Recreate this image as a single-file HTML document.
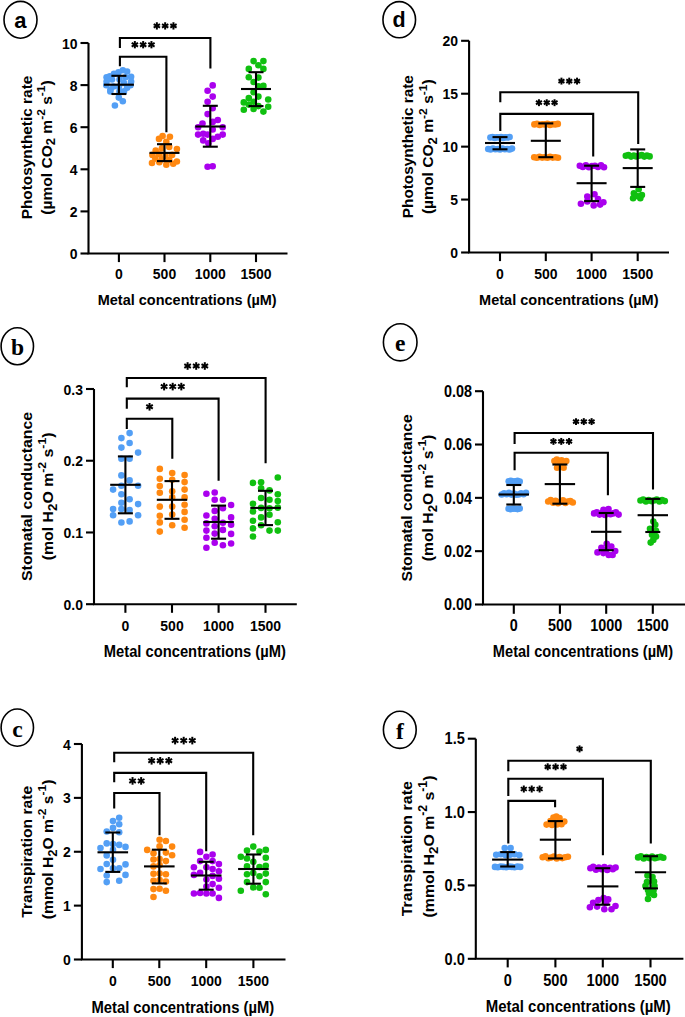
<!DOCTYPE html>
<html><head><meta charset="utf-8"><style>
html,body{margin:0;padding:0;background:#fff;overflow:hidden;width:685px;height:1017px;}
svg{display:block;}
text{font-family:"Liberation Sans", sans-serif;font-weight:bold;fill:#000;}
</style></head><body>
<svg width="685" height="1017" viewBox="0 0 685 1017">
<rect width="685" height="1017" fill="#fff"/>
<g>
<path d="M88.5 43 V253.5 H287.5" fill="none" stroke="#000" stroke-width="2.1" stroke-linejoin="miter"/>
<line x1="80.5" y1="253.5" x2="88.5" y2="253.5" stroke="#000" stroke-width="2.1" stroke-linecap="butt"/>
<text transform="translate(77.5,259.01) scale(1,1.1)" font-size="14.0" text-anchor="end">0</text>
<line x1="80.5" y1="211.4" x2="88.5" y2="211.4" stroke="#000" stroke-width="2.1" stroke-linecap="butt"/>
<text transform="translate(77.5,216.91) scale(1,1.1)" font-size="14.0" text-anchor="end">2</text>
<line x1="80.5" y1="169.3" x2="88.5" y2="169.3" stroke="#000" stroke-width="2.1" stroke-linecap="butt"/>
<text transform="translate(77.5,174.81) scale(1,1.1)" font-size="14.0" text-anchor="end">4</text>
<line x1="80.5" y1="127.2" x2="88.5" y2="127.2" stroke="#000" stroke-width="2.1" stroke-linecap="butt"/>
<text transform="translate(77.5,132.71) scale(1,1.1)" font-size="14.0" text-anchor="end">6</text>
<line x1="80.5" y1="85.1" x2="88.5" y2="85.1" stroke="#000" stroke-width="2.1" stroke-linecap="butt"/>
<text transform="translate(77.5,90.61) scale(1,1.1)" font-size="14.0" text-anchor="end">8</text>
<line x1="80.5" y1="43" x2="88.5" y2="43" stroke="#000" stroke-width="2.1" stroke-linecap="butt"/>
<text transform="translate(77.5,48.51) scale(1,1.1)" font-size="14.0" text-anchor="end">10</text>
<line x1="118.9" y1="253.5" x2="118.9" y2="262.1" stroke="#000" stroke-width="2.1" stroke-linecap="butt"/>
<text transform="translate(118.9,279.2) scale(1,1.1)" font-size="14.0" text-anchor="middle">0</text>
<line x1="164.5" y1="253.5" x2="164.5" y2="262.1" stroke="#000" stroke-width="2.1" stroke-linecap="butt"/>
<text transform="translate(164.5,279.2) scale(1,1.1)" font-size="14.0" text-anchor="middle">500</text>
<line x1="210.3" y1="253.5" x2="210.3" y2="262.1" stroke="#000" stroke-width="2.1" stroke-linecap="butt"/>
<text transform="translate(210.3,279.2) scale(1,1.1)" font-size="14.0" text-anchor="middle">1000</text>
<line x1="256" y1="253.5" x2="256" y2="262.1" stroke="#000" stroke-width="2.1" stroke-linecap="butt"/>
<text transform="translate(256,279.2) scale(1,1.1)" font-size="14.0" text-anchor="middle">1500</text>
<text transform="translate(187.2,305) scale(1,1.07)" font-size="14.5" text-anchor="middle">Metal concentrations (µM)</text>
<text transform="translate(31.7,147.5) rotate(-90) scale(1.055,1)" font-size="14.6" text-anchor="middle">Photosynthetic rate</text>
<text transform="translate(51.6,147.5) rotate(-90) scale(1.065,1)" font-size="14.6" text-anchor="middle">(µmol CO<tspan font-size="12.26" dy="3.65">2</tspan><tspan dy="-3.65"> m</tspan><tspan font-size="11.24" dy="-6.50">-2</tspan><tspan dy="6.50"> s</tspan><tspan font-size="11.24" dy="-6.50">-1</tspan><tspan dy="6.50">)</tspan></text>
<circle cx="122.8" cy="70.3" r="3.3" fill="#539ff5"/>
<circle cx="127.1" cy="71.5" r="3.3" fill="#539ff5"/>
<circle cx="118.5" cy="72.4" r="3.3" fill="#539ff5"/>
<circle cx="114" cy="73.8" r="3.3" fill="#539ff5"/>
<circle cx="109.8" cy="76.2" r="3.3" fill="#539ff5"/>
<circle cx="131.1" cy="76.7" r="3.3" fill="#539ff5"/>
<circle cx="106.6" cy="77.3" r="3.3" fill="#539ff5"/>
<circle cx="125.5" cy="77.3" r="3.3" fill="#539ff5"/>
<circle cx="112" cy="79.5" r="3.3" fill="#539ff5"/>
<circle cx="119.5" cy="79.5" r="3.3" fill="#539ff5"/>
<circle cx="131.1" cy="81.6" r="3.3" fill="#539ff5"/>
<circle cx="106.6" cy="81.6" r="3.3" fill="#539ff5"/>
<circle cx="124" cy="83" r="3.3" fill="#539ff5"/>
<circle cx="106.3" cy="85.3" r="3.3" fill="#539ff5"/>
<circle cx="130.5" cy="85.3" r="3.3" fill="#539ff5"/>
<circle cx="113.5" cy="86.5" r="3.3" fill="#539ff5"/>
<circle cx="119" cy="86.5" r="3.3" fill="#539ff5"/>
<circle cx="127.1" cy="87.8" r="3.3" fill="#539ff5"/>
<circle cx="110.5" cy="89.5" r="3.3" fill="#539ff5"/>
<circle cx="110.3" cy="91.4" r="3.3" fill="#539ff5"/>
<circle cx="119.5" cy="91.4" r="3.3" fill="#539ff5"/>
<circle cx="124" cy="91.4" r="3.3" fill="#539ff5"/>
<circle cx="118.8" cy="97.6" r="3.3" fill="#539ff5"/>
<circle cx="122.8" cy="101.2" r="3.3" fill="#539ff5"/>
<circle cx="114.9" cy="105.5" r="3.3" fill="#539ff5"/>
<circle cx="162.6" cy="136" r="3.3" fill="#ff8810"/>
<circle cx="169.9" cy="136.7" r="3.3" fill="#ff8810"/>
<circle cx="159" cy="138.9" r="3.3" fill="#ff8810"/>
<circle cx="166.3" cy="141.8" r="3.3" fill="#ff8810"/>
<circle cx="176.9" cy="149.1" r="3.3" fill="#ff8810"/>
<circle cx="155.7" cy="150.5" r="3.3" fill="#ff8810"/>
<circle cx="161.9" cy="148.4" r="3.3" fill="#ff8810"/>
<circle cx="169.2" cy="146.9" r="3.3" fill="#ff8810"/>
<circle cx="152.4" cy="154.9" r="3.3" fill="#ff8810"/>
<circle cx="159" cy="154.2" r="3.3" fill="#ff8810"/>
<circle cx="172.1" cy="154.9" r="3.3" fill="#ff8810"/>
<circle cx="165.5" cy="155.7" r="3.3" fill="#ff8810"/>
<circle cx="152" cy="163" r="3.3" fill="#ff8810"/>
<circle cx="159.3" cy="162.2" r="3.3" fill="#ff8810"/>
<circle cx="166.3" cy="164.8" r="3.3" fill="#ff8810"/>
<circle cx="173.2" cy="163.7" r="3.3" fill="#ff8810"/>
<circle cx="176.9" cy="161.5" r="3.3" fill="#ff8810"/>
<circle cx="155.3" cy="158.6" r="3.3" fill="#ff8810"/>
<circle cx="169.2" cy="160" r="3.3" fill="#ff8810"/>
<circle cx="161.9" cy="159.3" r="3.3" fill="#ff8810"/>
<circle cx="212.7" cy="85.4" r="3.3" fill="#aa00ee"/>
<circle cx="207.6" cy="90.8" r="3.3" fill="#aa00ee"/>
<circle cx="212.7" cy="96.6" r="3.3" fill="#aa00ee"/>
<circle cx="207.6" cy="101.7" r="3.3" fill="#aa00ee"/>
<circle cx="212.7" cy="108.3" r="3.3" fill="#aa00ee"/>
<circle cx="207.6" cy="114.1" r="3.3" fill="#aa00ee"/>
<circle cx="217.8" cy="120" r="3.3" fill="#aa00ee"/>
<circle cx="202.5" cy="123.6" r="3.3" fill="#aa00ee"/>
<circle cx="212.7" cy="121.9" r="3.3" fill="#aa00ee"/>
<circle cx="198.1" cy="127.3" r="3.3" fill="#aa00ee"/>
<circle cx="222.7" cy="127.3" r="3.3" fill="#aa00ee"/>
<circle cx="212.7" cy="129.5" r="3.3" fill="#aa00ee"/>
<circle cx="198.1" cy="134.6" r="3.3" fill="#aa00ee"/>
<circle cx="203.2" cy="133.8" r="3.3" fill="#aa00ee"/>
<circle cx="207.6" cy="134.6" r="3.3" fill="#aa00ee"/>
<circle cx="217.8" cy="136.8" r="3.3" fill="#aa00ee"/>
<circle cx="222.7" cy="134.6" r="3.3" fill="#aa00ee"/>
<circle cx="212.7" cy="138.9" r="3.3" fill="#aa00ee"/>
<circle cx="203.2" cy="140.4" r="3.3" fill="#aa00ee"/>
<circle cx="208.4" cy="143.3" r="3.3" fill="#aa00ee"/>
<circle cx="207.6" cy="166.7" r="3.3" fill="#aa00ee"/>
<circle cx="212.7" cy="166.2" r="3.3" fill="#aa00ee"/>
<circle cx="253.6" cy="61.1" r="3.3" fill="#10c010"/>
<circle cx="263.4" cy="61.1" r="3.3" fill="#10c010"/>
<circle cx="258.4" cy="65.2" r="3.3" fill="#10c010"/>
<circle cx="248.8" cy="68.9" r="3.3" fill="#10c010"/>
<circle cx="263.4" cy="68.9" r="3.3" fill="#10c010"/>
<circle cx="248.8" cy="77.2" r="3.3" fill="#10c010"/>
<circle cx="258.4" cy="77.6" r="3.3" fill="#10c010"/>
<circle cx="253.6" cy="82" r="3.3" fill="#10c010"/>
<circle cx="263.4" cy="85.9" r="3.3" fill="#10c010"/>
<circle cx="258.4" cy="86.4" r="3.3" fill="#10c010"/>
<circle cx="253.6" cy="92.2" r="3.3" fill="#10c010"/>
<circle cx="258.4" cy="96.6" r="3.3" fill="#10c010"/>
<circle cx="248.8" cy="98.1" r="3.3" fill="#10c010"/>
<circle cx="268.2" cy="99.5" r="3.3" fill="#10c010"/>
<circle cx="243.8" cy="102.4" r="3.3" fill="#10c010"/>
<circle cx="253.6" cy="101.7" r="3.3" fill="#10c010"/>
<circle cx="248.8" cy="104.6" r="3.3" fill="#10c010"/>
<circle cx="258.4" cy="106.1" r="3.3" fill="#10c010"/>
<circle cx="268.2" cy="106.8" r="3.3" fill="#10c010"/>
<circle cx="243.8" cy="109.7" r="3.3" fill="#10c010"/>
<circle cx="253.6" cy="109" r="3.3" fill="#10c010"/>
<circle cx="263.4" cy="111.6" r="3.3" fill="#10c010"/>
<line x1="118.9" y1="75.8" x2="118.9" y2="94" stroke="#000" stroke-width="2.1" stroke-linecap="butt"/>
<line x1="111.4" y1="75.8" x2="126.4" y2="75.8" stroke="#000" stroke-width="2.1" stroke-linecap="butt"/>
<line x1="111.4" y1="94" x2="126.4" y2="94" stroke="#000" stroke-width="2.1" stroke-linecap="butt"/>
<line x1="103.9" y1="84.7" x2="133.9" y2="84.7" stroke="#000" stroke-width="2.1" stroke-linecap="butt"/>
<line x1="164.5" y1="144.2" x2="164.5" y2="161.1" stroke="#000" stroke-width="2.1" stroke-linecap="butt"/>
<line x1="157" y1="144.2" x2="172" y2="144.2" stroke="#000" stroke-width="2.1" stroke-linecap="butt"/>
<line x1="157" y1="161.1" x2="172" y2="161.1" stroke="#000" stroke-width="2.1" stroke-linecap="butt"/>
<line x1="149.5" y1="152.9" x2="179.5" y2="152.9" stroke="#000" stroke-width="2.1" stroke-linecap="butt"/>
<line x1="210.3" y1="105.8" x2="210.3" y2="146.7" stroke="#000" stroke-width="2.1" stroke-linecap="butt"/>
<line x1="202.8" y1="105.8" x2="217.8" y2="105.8" stroke="#000" stroke-width="2.1" stroke-linecap="butt"/>
<line x1="202.8" y1="146.7" x2="217.8" y2="146.7" stroke="#000" stroke-width="2.1" stroke-linecap="butt"/>
<line x1="195.3" y1="126.5" x2="225.3" y2="126.5" stroke="#000" stroke-width="2.1" stroke-linecap="butt"/>
<line x1="256" y1="72.2" x2="256" y2="106.1" stroke="#000" stroke-width="2.1" stroke-linecap="butt"/>
<line x1="248.5" y1="72.2" x2="263.5" y2="72.2" stroke="#000" stroke-width="2.1" stroke-linecap="butt"/>
<line x1="248.5" y1="106.1" x2="263.5" y2="106.1" stroke="#000" stroke-width="2.1" stroke-linecap="butt"/>
<line x1="241" y1="89" x2="271" y2="89" stroke="#000" stroke-width="2.1" stroke-linecap="butt"/>
<path d="M119.9 48 V38 H210.4 V68.4" fill="none" stroke="#000" stroke-width="2.1"/>
<line x1="156.85" y1="22.25" x2="156.85" y2="29.55" stroke="#000" stroke-width="2.0"/>
<line x1="153.69" y1="24.07" x2="160.01" y2="27.72" stroke="#000" stroke-width="2.0"/>
<line x1="153.69" y1="27.72" x2="160.01" y2="24.07" stroke="#000" stroke-width="2.0"/>
<line x1="165.15" y1="22.25" x2="165.15" y2="29.55" stroke="#000" stroke-width="2.0"/>
<line x1="161.99" y1="24.07" x2="168.31" y2="27.72" stroke="#000" stroke-width="2.0"/>
<line x1="161.99" y1="27.72" x2="168.31" y2="24.07" stroke="#000" stroke-width="2.0"/>
<line x1="173.45" y1="22.25" x2="173.45" y2="29.55" stroke="#000" stroke-width="2.0"/>
<line x1="170.29" y1="24.07" x2="176.61" y2="27.72" stroke="#000" stroke-width="2.0"/>
<line x1="170.29" y1="27.72" x2="176.61" y2="24.07" stroke="#000" stroke-width="2.0"/>
<path d="M119.9 66.2 V56.8 H166.4 V132.3" fill="none" stroke="#000" stroke-width="2.1"/>
<line x1="134.85" y1="41.05" x2="134.85" y2="48.35" stroke="#000" stroke-width="2.0"/>
<line x1="131.69" y1="42.87" x2="138.01" y2="46.52" stroke="#000" stroke-width="2.0"/>
<line x1="131.69" y1="46.52" x2="138.01" y2="42.87" stroke="#000" stroke-width="2.0"/>
<line x1="143.15" y1="41.05" x2="143.15" y2="48.35" stroke="#000" stroke-width="2.0"/>
<line x1="139.99" y1="42.87" x2="146.31" y2="46.52" stroke="#000" stroke-width="2.0"/>
<line x1="139.99" y1="46.52" x2="146.31" y2="42.87" stroke="#000" stroke-width="2.0"/>
<line x1="151.45" y1="41.05" x2="151.45" y2="48.35" stroke="#000" stroke-width="2.0"/>
<line x1="148.29" y1="42.87" x2="154.61" y2="46.52" stroke="#000" stroke-width="2.0"/>
<line x1="148.29" y1="46.52" x2="154.61" y2="42.87" stroke="#000" stroke-width="2.0"/>
<ellipse cx="20.5" cy="19.8" rx="16.5" ry="18.4" fill="none" stroke="#000" stroke-width="1.6"/>
<text x="20.3" y="27.6" font-size="22" text-anchor="middle" style='font-family:"Liberation Sans", sans-serif'>a</text>
</g>
<g>
<path d="M469.1 40.8 V252.5 H669" fill="none" stroke="#000" stroke-width="2.1" stroke-linejoin="miter"/>
<line x1="461.1" y1="252.5" x2="469.1" y2="252.5" stroke="#000" stroke-width="2.1" stroke-linecap="butt"/>
<text transform="translate(458.1,258.01) scale(1,1.1)" font-size="14.0" text-anchor="end">0</text>
<line x1="461.1" y1="199.57" x2="469.1" y2="199.57" stroke="#000" stroke-width="2.1" stroke-linecap="butt"/>
<text transform="translate(458.1,205.09) scale(1,1.1)" font-size="14.0" text-anchor="end">5</text>
<line x1="461.1" y1="146.65" x2="469.1" y2="146.65" stroke="#000" stroke-width="2.1" stroke-linecap="butt"/>
<text transform="translate(458.1,152.16) scale(1,1.1)" font-size="14.0" text-anchor="end">10</text>
<line x1="461.1" y1="93.72" x2="469.1" y2="93.72" stroke="#000" stroke-width="2.1" stroke-linecap="butt"/>
<text transform="translate(458.1,99.24) scale(1,1.1)" font-size="14.0" text-anchor="end">15</text>
<line x1="461.1" y1="40.8" x2="469.1" y2="40.8" stroke="#000" stroke-width="2.1" stroke-linecap="butt"/>
<text transform="translate(458.1,46.31) scale(1,1.1)" font-size="14.0" text-anchor="end">20</text>
<line x1="500" y1="252.5" x2="500" y2="261.1" stroke="#000" stroke-width="2.1" stroke-linecap="butt"/>
<text transform="translate(500,278.6) scale(1,1.1)" font-size="14.0" text-anchor="middle">0</text>
<line x1="545.8" y1="252.5" x2="545.8" y2="261.1" stroke="#000" stroke-width="2.1" stroke-linecap="butt"/>
<text transform="translate(545.8,278.6) scale(1,1.1)" font-size="14.0" text-anchor="middle">500</text>
<line x1="591.6" y1="252.5" x2="591.6" y2="261.1" stroke="#000" stroke-width="2.1" stroke-linecap="butt"/>
<text transform="translate(591.6,278.6) scale(1,1.1)" font-size="14.0" text-anchor="middle">1000</text>
<line x1="637.7" y1="252.5" x2="637.7" y2="261.1" stroke="#000" stroke-width="2.1" stroke-linecap="butt"/>
<text transform="translate(637.7,278.6) scale(1,1.1)" font-size="14.0" text-anchor="middle">1500</text>
<text transform="translate(568.8,304.8) scale(1,1.07)" font-size="14.55" text-anchor="middle">Metal concentrations (µM)</text>
<text transform="translate(412.8,146.7) rotate(-90) scale(1.05,1)" font-size="14.6" text-anchor="middle">Photosynthetic rate</text>
<text transform="translate(433.2,146.7) rotate(-90) scale(1.07,1)" font-size="14.6" text-anchor="middle">(µmol CO<tspan font-size="12.26" dy="3.65">2</tspan><tspan dy="-3.65"> m</tspan><tspan font-size="11.24" dy="-6.50">-2</tspan><tspan dy="6.50"> s</tspan><tspan font-size="11.24" dy="-6.50">-1</tspan><tspan dy="6.50">)</tspan></text>
<circle cx="490.4" cy="137.5" r="3.3" fill="#539ff5"/>
<circle cx="492.53" cy="137" r="3.3" fill="#539ff5"/>
<circle cx="494.67" cy="137.9" r="3.3" fill="#539ff5"/>
<circle cx="496.8" cy="137.2" r="3.3" fill="#539ff5"/>
<circle cx="498.93" cy="137.5" r="3.3" fill="#539ff5"/>
<circle cx="501.07" cy="137" r="3.3" fill="#539ff5"/>
<circle cx="503.2" cy="137.9" r="3.3" fill="#539ff5"/>
<circle cx="505.33" cy="137.2" r="3.3" fill="#539ff5"/>
<circle cx="507.47" cy="137.5" r="3.3" fill="#539ff5"/>
<circle cx="509.6" cy="137" r="3.3" fill="#539ff5"/>
<circle cx="488.2" cy="149" r="3.3" fill="#539ff5"/>
<circle cx="490.58" cy="149.4" r="3.3" fill="#539ff5"/>
<circle cx="492.96" cy="148.6" r="3.3" fill="#539ff5"/>
<circle cx="495.34" cy="149.3" r="3.3" fill="#539ff5"/>
<circle cx="497.72" cy="149" r="3.3" fill="#539ff5"/>
<circle cx="500.1" cy="149.4" r="3.3" fill="#539ff5"/>
<circle cx="502.48" cy="148.6" r="3.3" fill="#539ff5"/>
<circle cx="504.86" cy="149.3" r="3.3" fill="#539ff5"/>
<circle cx="507.24" cy="149" r="3.3" fill="#539ff5"/>
<circle cx="509.62" cy="149.4" r="3.3" fill="#539ff5"/>
<circle cx="512" cy="148.6" r="3.3" fill="#539ff5"/>
<circle cx="534.4" cy="124.4" r="3.3" fill="#ff8810"/>
<circle cx="537" cy="123.9" r="3.3" fill="#ff8810"/>
<circle cx="539.6" cy="124.9" r="3.3" fill="#ff8810"/>
<circle cx="542.2" cy="124.2" r="3.3" fill="#ff8810"/>
<circle cx="544.8" cy="124.4" r="3.3" fill="#ff8810"/>
<circle cx="547.4" cy="123.9" r="3.3" fill="#ff8810"/>
<circle cx="550" cy="124.9" r="3.3" fill="#ff8810"/>
<circle cx="552.6" cy="124.2" r="3.3" fill="#ff8810"/>
<circle cx="555.2" cy="124.4" r="3.3" fill="#ff8810"/>
<circle cx="557.8" cy="123.9" r="3.3" fill="#ff8810"/>
<circle cx="534.2" cy="157.3" r="3.3" fill="#ff8810"/>
<circle cx="536.84" cy="157.7" r="3.3" fill="#ff8810"/>
<circle cx="539.49" cy="156.9" r="3.3" fill="#ff8810"/>
<circle cx="542.13" cy="157.6" r="3.3" fill="#ff8810"/>
<circle cx="544.78" cy="157.3" r="3.3" fill="#ff8810"/>
<circle cx="547.42" cy="157.7" r="3.3" fill="#ff8810"/>
<circle cx="550.07" cy="156.9" r="3.3" fill="#ff8810"/>
<circle cx="552.71" cy="157.6" r="3.3" fill="#ff8810"/>
<circle cx="555.36" cy="157.3" r="3.3" fill="#ff8810"/>
<circle cx="558" cy="157.7" r="3.3" fill="#ff8810"/>
<circle cx="579.8" cy="165.8" r="3.3" fill="#aa00ee"/>
<circle cx="582.82" cy="167" r="3.3" fill="#aa00ee"/>
<circle cx="585.85" cy="165.4" r="3.3" fill="#aa00ee"/>
<circle cx="588.88" cy="167.3" r="3.3" fill="#aa00ee"/>
<circle cx="591.9" cy="166" r="3.3" fill="#aa00ee"/>
<circle cx="594.92" cy="165.8" r="3.3" fill="#aa00ee"/>
<circle cx="597.95" cy="167" r="3.3" fill="#aa00ee"/>
<circle cx="600.98" cy="165.4" r="3.3" fill="#aa00ee"/>
<circle cx="604" cy="167.3" r="3.3" fill="#aa00ee"/>
<circle cx="594.5" cy="194.2" r="3.3" fill="#aa00ee"/>
<circle cx="587.3" cy="196.6" r="3.3" fill="#aa00ee"/>
<circle cx="580.9" cy="203.8" r="3.3" fill="#aa00ee"/>
<circle cx="587.3" cy="201.4" r="3.3" fill="#aa00ee"/>
<circle cx="593.7" cy="205.4" r="3.3" fill="#aa00ee"/>
<circle cx="600.1" cy="204.6" r="3.3" fill="#aa00ee"/>
<circle cx="603.4" cy="202.2" r="3.3" fill="#aa00ee"/>
<circle cx="598" cy="199" r="3.3" fill="#aa00ee"/>
<circle cx="625.8" cy="155.8" r="3.3" fill="#10c010"/>
<circle cx="628.44" cy="155" r="3.3" fill="#10c010"/>
<circle cx="631.09" cy="156.6" r="3.3" fill="#10c010"/>
<circle cx="633.73" cy="155.5" r="3.3" fill="#10c010"/>
<circle cx="636.38" cy="156.4" r="3.3" fill="#10c010"/>
<circle cx="639.02" cy="155.8" r="3.3" fill="#10c010"/>
<circle cx="641.67" cy="155" r="3.3" fill="#10c010"/>
<circle cx="644.31" cy="156.6" r="3.3" fill="#10c010"/>
<circle cx="646.96" cy="155.5" r="3.3" fill="#10c010"/>
<circle cx="649.6" cy="156.4" r="3.3" fill="#10c010"/>
<circle cx="638.7" cy="189.3" r="3.3" fill="#10c010"/>
<circle cx="633.9" cy="193.4" r="3.3" fill="#10c010"/>
<circle cx="641.9" cy="195" r="3.3" fill="#10c010"/>
<circle cx="633.1" cy="198.2" r="3.3" fill="#10c010"/>
<circle cx="640.3" cy="198.2" r="3.3" fill="#10c010"/>
<circle cx="637" cy="196" r="3.3" fill="#10c010"/>
<line x1="500" y1="137.1" x2="500" y2="149.3" stroke="#000" stroke-width="2.1" stroke-linecap="butt"/>
<line x1="492.5" y1="137.1" x2="507.5" y2="137.1" stroke="#000" stroke-width="2.1" stroke-linecap="butt"/>
<line x1="492.5" y1="149.3" x2="507.5" y2="149.3" stroke="#000" stroke-width="2.1" stroke-linecap="butt"/>
<line x1="485" y1="143" x2="515" y2="143" stroke="#000" stroke-width="2.1" stroke-linecap="butt"/>
<line x1="545.8" y1="123.4" x2="545.8" y2="157.2" stroke="#000" stroke-width="2.1" stroke-linecap="butt"/>
<line x1="538.3" y1="123.4" x2="553.3" y2="123.4" stroke="#000" stroke-width="2.1" stroke-linecap="butt"/>
<line x1="538.3" y1="157.2" x2="553.3" y2="157.2" stroke="#000" stroke-width="2.1" stroke-linecap="butt"/>
<line x1="530.8" y1="140.8" x2="560.8" y2="140.8" stroke="#000" stroke-width="2.1" stroke-linecap="butt"/>
<line x1="591.6" y1="165.7" x2="591.6" y2="201.1" stroke="#000" stroke-width="2.1" stroke-linecap="butt"/>
<line x1="584.1" y1="165.7" x2="599.1" y2="165.7" stroke="#000" stroke-width="2.1" stroke-linecap="butt"/>
<line x1="584.1" y1="201.1" x2="599.1" y2="201.1" stroke="#000" stroke-width="2.1" stroke-linecap="butt"/>
<line x1="576.6" y1="183.2" x2="606.6" y2="183.2" stroke="#000" stroke-width="2.1" stroke-linecap="butt"/>
<line x1="637.7" y1="149.4" x2="637.7" y2="186.9" stroke="#000" stroke-width="2.1" stroke-linecap="butt"/>
<line x1="630.2" y1="149.4" x2="645.2" y2="149.4" stroke="#000" stroke-width="2.1" stroke-linecap="butt"/>
<line x1="630.2" y1="186.9" x2="645.2" y2="186.9" stroke="#000" stroke-width="2.1" stroke-linecap="butt"/>
<line x1="622.7" y1="168.1" x2="652.7" y2="168.1" stroke="#000" stroke-width="2.1" stroke-linecap="butt"/>
<path d="M500.3 102.3 V92.3 H638.2 V144" fill="none" stroke="#000" stroke-width="2.1"/>
<line x1="561.45" y1="77.65" x2="561.45" y2="84.55" stroke="#000" stroke-width="2.0"/>
<line x1="558.46" y1="79.38" x2="564.44" y2="82.82" stroke="#000" stroke-width="2.0"/>
<line x1="558.46" y1="82.82" x2="564.44" y2="79.38" stroke="#000" stroke-width="2.0"/>
<line x1="569.25" y1="77.65" x2="569.25" y2="84.55" stroke="#000" stroke-width="2.0"/>
<line x1="566.26" y1="79.38" x2="572.24" y2="82.82" stroke="#000" stroke-width="2.0"/>
<line x1="566.26" y1="82.82" x2="572.24" y2="79.38" stroke="#000" stroke-width="2.0"/>
<line x1="577.05" y1="77.65" x2="577.05" y2="84.55" stroke="#000" stroke-width="2.0"/>
<line x1="574.06" y1="79.38" x2="580.04" y2="82.82" stroke="#000" stroke-width="2.0"/>
<line x1="574.06" y1="82.82" x2="580.04" y2="79.38" stroke="#000" stroke-width="2.0"/>
<path d="M500.3 130.9 V113.9 H593.2 V156.4" fill="none" stroke="#000" stroke-width="2.1"/>
<line x1="538.95" y1="99.25" x2="538.95" y2="106.15" stroke="#000" stroke-width="2.0"/>
<line x1="535.96" y1="100.98" x2="541.94" y2="104.42" stroke="#000" stroke-width="2.0"/>
<line x1="535.96" y1="104.42" x2="541.94" y2="100.98" stroke="#000" stroke-width="2.0"/>
<line x1="546.75" y1="99.25" x2="546.75" y2="106.15" stroke="#000" stroke-width="2.0"/>
<line x1="543.76" y1="100.98" x2="549.74" y2="104.42" stroke="#000" stroke-width="2.0"/>
<line x1="543.76" y1="104.42" x2="549.74" y2="100.98" stroke="#000" stroke-width="2.0"/>
<line x1="554.55" y1="99.25" x2="554.55" y2="106.15" stroke="#000" stroke-width="2.0"/>
<line x1="551.56" y1="100.98" x2="557.54" y2="104.42" stroke="#000" stroke-width="2.0"/>
<line x1="551.56" y1="104.42" x2="557.54" y2="100.98" stroke="#000" stroke-width="2.0"/>
<ellipse cx="399.25" cy="19.7" rx="16.3" ry="18.1" fill="none" stroke="#000" stroke-width="1.6"/>
<text x="399" y="27.2" font-size="21.5" text-anchor="middle" style='font-family:"Liberation Sans", sans-serif'>d</text>
</g>
<g>
<path d="M94 389 V604.2 H296.8" fill="none" stroke="#000" stroke-width="2.1" stroke-linejoin="miter"/>
<line x1="86" y1="604.2" x2="94" y2="604.2" stroke="#000" stroke-width="2.1" stroke-linecap="butt"/>
<text transform="translate(83,609.71) scale(1,1.1)" font-size="14.0" text-anchor="end">0.0</text>
<line x1="86" y1="532.47" x2="94" y2="532.47" stroke="#000" stroke-width="2.1" stroke-linecap="butt"/>
<text transform="translate(83,537.98) scale(1,1.1)" font-size="14.0" text-anchor="end">0.1</text>
<line x1="86" y1="460.73" x2="94" y2="460.73" stroke="#000" stroke-width="2.1" stroke-linecap="butt"/>
<text transform="translate(83,466.25) scale(1,1.1)" font-size="14.0" text-anchor="end">0.2</text>
<line x1="86" y1="389" x2="94" y2="389" stroke="#000" stroke-width="2.1" stroke-linecap="butt"/>
<text transform="translate(83,394.51) scale(1,1.1)" font-size="14.0" text-anchor="end">0.3</text>
<line x1="125.4" y1="604.2" x2="125.4" y2="612.8" stroke="#000" stroke-width="2.1" stroke-linecap="butt"/>
<text transform="translate(125.4,630.6) scale(1,1.1)" font-size="14.0" text-anchor="middle">0</text>
<line x1="172" y1="604.2" x2="172" y2="612.8" stroke="#000" stroke-width="2.1" stroke-linecap="butt"/>
<text transform="translate(172,630.6) scale(1,1.1)" font-size="14.0" text-anchor="middle">500</text>
<line x1="218.6" y1="604.2" x2="218.6" y2="612.8" stroke="#000" stroke-width="2.1" stroke-linecap="butt"/>
<text transform="translate(218.6,630.6) scale(1,1.1)" font-size="14.0" text-anchor="middle">1000</text>
<line x1="265.5" y1="604.2" x2="265.5" y2="612.8" stroke="#000" stroke-width="2.1" stroke-linecap="butt"/>
<text transform="translate(265.5,630.6) scale(1,1.1)" font-size="14.0" text-anchor="middle">1500</text>
<text transform="translate(194.8,656.6) scale(1,1.07)" font-size="14.75" text-anchor="middle">Metal concentrations (µM)</text>
<text transform="translate(32.3,496.4) rotate(-90) scale(1.04,1)" font-size="15.25" text-anchor="middle">Stomatal conductance</text>
<text transform="translate(52.9,496.4) rotate(-90) scale(1.04,1)" font-size="15.25" text-anchor="middle">(mol H<tspan font-size="12.81" dy="3.81">2</tspan><tspan dy="-3.81">O m</tspan><tspan font-size="11.74" dy="-6.79">-2</tspan><tspan dy="6.79"> s</tspan><tspan font-size="11.74" dy="-6.79">-1</tspan><tspan dy="6.79">)</tspan></text>
<circle cx="129.6" cy="433.1" r="3.3" fill="#539ff5"/>
<circle cx="121.4" cy="438.1" r="3.3" fill="#539ff5"/>
<circle cx="129.6" cy="443" r="3.3" fill="#539ff5"/>
<circle cx="121.4" cy="447.6" r="3.3" fill="#539ff5"/>
<circle cx="138.1" cy="452.6" r="3.3" fill="#539ff5"/>
<circle cx="121.4" cy="458.8" r="3.3" fill="#539ff5"/>
<circle cx="129.6" cy="458.8" r="3.3" fill="#539ff5"/>
<circle cx="121.4" cy="475.4" r="3.3" fill="#539ff5"/>
<circle cx="129.6" cy="480.4" r="3.3" fill="#539ff5"/>
<circle cx="121.4" cy="485.7" r="3.3" fill="#539ff5"/>
<circle cx="138.1" cy="485.7" r="3.3" fill="#539ff5"/>
<circle cx="113.1" cy="489.6" r="3.3" fill="#539ff5"/>
<circle cx="121.4" cy="494.2" r="3.3" fill="#539ff5"/>
<circle cx="129.6" cy="499.2" r="3.3" fill="#539ff5"/>
<circle cx="121.4" cy="502.8" r="3.3" fill="#539ff5"/>
<circle cx="138.1" cy="504.1" r="3.3" fill="#539ff5"/>
<circle cx="113.1" cy="509.1" r="3.3" fill="#539ff5"/>
<circle cx="121.4" cy="509.1" r="3.3" fill="#539ff5"/>
<circle cx="129.6" cy="510" r="3.3" fill="#539ff5"/>
<circle cx="113.1" cy="515.3" r="3.3" fill="#539ff5"/>
<circle cx="138.1" cy="515.3" r="3.3" fill="#539ff5"/>
<circle cx="121.4" cy="522.5" r="3.3" fill="#539ff5"/>
<circle cx="129.6" cy="521.4" r="3.3" fill="#539ff5"/>
<circle cx="159.8" cy="468.9" r="3.3" fill="#ff8810"/>
<circle cx="159.8" cy="478.8" r="3.3" fill="#ff8810"/>
<circle cx="159.8" cy="486" r="3.3" fill="#ff8810"/>
<circle cx="159.8" cy="492.8" r="3.3" fill="#ff8810"/>
<circle cx="159.8" cy="506.6" r="3.3" fill="#ff8810"/>
<circle cx="159.8" cy="515.8" r="3.3" fill="#ff8810"/>
<circle cx="159.8" cy="522.4" r="3.3" fill="#ff8810"/>
<circle cx="159.8" cy="531.6" r="3.3" fill="#ff8810"/>
<circle cx="172.2" cy="473.1" r="3.3" fill="#ff8810"/>
<circle cx="172.2" cy="479.7" r="3.3" fill="#ff8810"/>
<circle cx="172.2" cy="491.3" r="3.3" fill="#ff8810"/>
<circle cx="172.2" cy="497.4" r="3.3" fill="#ff8810"/>
<circle cx="172.2" cy="506.6" r="3.3" fill="#ff8810"/>
<circle cx="172.2" cy="514.5" r="3.3" fill="#ff8810"/>
<circle cx="172.2" cy="525.3" r="3.3" fill="#ff8810"/>
<circle cx="184.6" cy="475.1" r="3.3" fill="#ff8810"/>
<circle cx="184.6" cy="482.1" r="3.3" fill="#ff8810"/>
<circle cx="184.6" cy="489.6" r="3.3" fill="#ff8810"/>
<circle cx="184.6" cy="497.4" r="3.3" fill="#ff8810"/>
<circle cx="184.6" cy="504.7" r="3.3" fill="#ff8810"/>
<circle cx="184.6" cy="511.9" r="3.3" fill="#ff8810"/>
<circle cx="184.6" cy="519.8" r="3.3" fill="#ff8810"/>
<circle cx="184.6" cy="527.7" r="3.3" fill="#ff8810"/>
<circle cx="206.4" cy="493.8" r="3.3" fill="#aa00ee"/>
<circle cx="206.4" cy="515.5" r="3.3" fill="#aa00ee"/>
<circle cx="206.4" cy="523.4" r="3.3" fill="#aa00ee"/>
<circle cx="206.4" cy="530.6" r="3.3" fill="#aa00ee"/>
<circle cx="206.4" cy="537.8" r="3.3" fill="#aa00ee"/>
<circle cx="206.4" cy="547.7" r="3.3" fill="#aa00ee"/>
<circle cx="214.7" cy="492.5" r="3.3" fill="#aa00ee"/>
<circle cx="214.7" cy="499.7" r="3.3" fill="#aa00ee"/>
<circle cx="214.7" cy="510.9" r="3.3" fill="#aa00ee"/>
<circle cx="214.7" cy="518.8" r="3.3" fill="#aa00ee"/>
<circle cx="214.7" cy="526.2" r="3.3" fill="#aa00ee"/>
<circle cx="214.7" cy="533.6" r="3.3" fill="#aa00ee"/>
<circle cx="214.7" cy="542.8" r="3.3" fill="#aa00ee"/>
<circle cx="222.9" cy="499.7" r="3.3" fill="#aa00ee"/>
<circle cx="222.9" cy="508.2" r="3.3" fill="#aa00ee"/>
<circle cx="222.9" cy="522.7" r="3.3" fill="#aa00ee"/>
<circle cx="222.9" cy="529.9" r="3.3" fill="#aa00ee"/>
<circle cx="222.9" cy="545.3" r="3.3" fill="#aa00ee"/>
<circle cx="231.1" cy="505" r="3.3" fill="#aa00ee"/>
<circle cx="231.1" cy="517.4" r="3.3" fill="#aa00ee"/>
<circle cx="231.1" cy="524.7" r="3.3" fill="#aa00ee"/>
<circle cx="231.1" cy="533.9" r="3.3" fill="#aa00ee"/>
<circle cx="231.1" cy="543.5" r="3.3" fill="#aa00ee"/>
<circle cx="253" cy="482.9" r="3.3" fill="#10c010"/>
<circle cx="253" cy="503.7" r="3.3" fill="#10c010"/>
<circle cx="253" cy="511.5" r="3.3" fill="#10c010"/>
<circle cx="253" cy="520.7" r="3.3" fill="#10c010"/>
<circle cx="253" cy="528.4" r="3.3" fill="#10c010"/>
<circle cx="253" cy="536.5" r="3.3" fill="#10c010"/>
<circle cx="261.1" cy="482.2" r="3.3" fill="#10c010"/>
<circle cx="261.1" cy="488.2" r="3.3" fill="#10c010"/>
<circle cx="261.1" cy="498" r="3.3" fill="#10c010"/>
<circle cx="261.1" cy="507.9" r="3.3" fill="#10c010"/>
<circle cx="261.1" cy="517.4" r="3.3" fill="#10c010"/>
<circle cx="261.1" cy="525.3" r="3.3" fill="#10c010"/>
<circle cx="269.5" cy="490.4" r="3.3" fill="#10c010"/>
<circle cx="269.5" cy="499.7" r="3.3" fill="#10c010"/>
<circle cx="269.5" cy="508.2" r="3.3" fill="#10c010"/>
<circle cx="269.5" cy="514.8" r="3.3" fill="#10c010"/>
<circle cx="269.5" cy="530.6" r="3.3" fill="#10c010"/>
<circle cx="277.8" cy="477.5" r="3.3" fill="#10c010"/>
<circle cx="277.8" cy="494.2" r="3.3" fill="#10c010"/>
<circle cx="277.8" cy="501" r="3.3" fill="#10c010"/>
<circle cx="277.8" cy="507.6" r="3.3" fill="#10c010"/>
<circle cx="277.8" cy="522.3" r="3.3" fill="#10c010"/>
<circle cx="277.8" cy="530.6" r="3.3" fill="#10c010"/>
<line x1="125.4" y1="456.4" x2="125.4" y2="513.3" stroke="#000" stroke-width="2.1" stroke-linecap="butt"/>
<line x1="117.9" y1="456.4" x2="132.9" y2="456.4" stroke="#000" stroke-width="2.1" stroke-linecap="butt"/>
<line x1="117.9" y1="513.3" x2="132.9" y2="513.3" stroke="#000" stroke-width="2.1" stroke-linecap="butt"/>
<line x1="110.2" y1="484.8" x2="140.6" y2="484.8" stroke="#000" stroke-width="2.1" stroke-linecap="butt"/>
<line x1="172" y1="481.1" x2="172" y2="518.8" stroke="#000" stroke-width="2.1" stroke-linecap="butt"/>
<line x1="164.5" y1="481.1" x2="179.5" y2="481.1" stroke="#000" stroke-width="2.1" stroke-linecap="butt"/>
<line x1="164.5" y1="518.8" x2="179.5" y2="518.8" stroke="#000" stroke-width="2.1" stroke-linecap="butt"/>
<line x1="156.8" y1="499.8" x2="187.2" y2="499.8" stroke="#000" stroke-width="2.1" stroke-linecap="butt"/>
<line x1="218.6" y1="505.6" x2="218.6" y2="538.7" stroke="#000" stroke-width="2.1" stroke-linecap="butt"/>
<line x1="211.1" y1="505.6" x2="226.1" y2="505.6" stroke="#000" stroke-width="2.1" stroke-linecap="butt"/>
<line x1="211.1" y1="538.7" x2="226.1" y2="538.7" stroke="#000" stroke-width="2.1" stroke-linecap="butt"/>
<line x1="203.4" y1="522" x2="233.8" y2="522" stroke="#000" stroke-width="2.1" stroke-linecap="butt"/>
<line x1="265.5" y1="490.8" x2="265.5" y2="525.1" stroke="#000" stroke-width="2.1" stroke-linecap="butt"/>
<line x1="258" y1="490.8" x2="273" y2="490.8" stroke="#000" stroke-width="2.1" stroke-linecap="butt"/>
<line x1="258" y1="525.1" x2="273" y2="525.1" stroke="#000" stroke-width="2.1" stroke-linecap="butt"/>
<line x1="250.3" y1="507.9" x2="280.7" y2="507.9" stroke="#000" stroke-width="2.1" stroke-linecap="butt"/>
<path d="M126.8 387.2 V378 H265.6 V463.2" fill="none" stroke="#000" stroke-width="2.1"/>
<line x1="187.6" y1="362.2" x2="187.6" y2="369.8" stroke="#000" stroke-width="2.0"/>
<line x1="184.31" y1="364.1" x2="190.89" y2="367.9" stroke="#000" stroke-width="2.0"/>
<line x1="184.31" y1="367.9" x2="190.89" y2="364.1" stroke="#000" stroke-width="2.0"/>
<line x1="196.2" y1="362.2" x2="196.2" y2="369.8" stroke="#000" stroke-width="2.0"/>
<line x1="192.91" y1="364.1" x2="199.49" y2="367.9" stroke="#000" stroke-width="2.0"/>
<line x1="192.91" y1="367.9" x2="199.49" y2="364.1" stroke="#000" stroke-width="2.0"/>
<line x1="204.8" y1="362.2" x2="204.8" y2="369.8" stroke="#000" stroke-width="2.0"/>
<line x1="201.51" y1="364.1" x2="208.09" y2="367.9" stroke="#000" stroke-width="2.0"/>
<line x1="201.51" y1="367.9" x2="208.09" y2="364.1" stroke="#000" stroke-width="2.0"/>
<path d="M126.8 408.7 V398.6 H218.6 V480.8" fill="none" stroke="#000" stroke-width="2.1"/>
<line x1="164.1" y1="382.8" x2="164.1" y2="390.4" stroke="#000" stroke-width="2.0"/>
<line x1="160.81" y1="384.7" x2="167.39" y2="388.5" stroke="#000" stroke-width="2.0"/>
<line x1="160.81" y1="388.5" x2="167.39" y2="384.7" stroke="#000" stroke-width="2.0"/>
<line x1="172.7" y1="382.8" x2="172.7" y2="390.4" stroke="#000" stroke-width="2.0"/>
<line x1="169.41" y1="384.7" x2="175.99" y2="388.5" stroke="#000" stroke-width="2.0"/>
<line x1="169.41" y1="388.5" x2="175.99" y2="384.7" stroke="#000" stroke-width="2.0"/>
<line x1="181.3" y1="382.8" x2="181.3" y2="390.4" stroke="#000" stroke-width="2.0"/>
<line x1="178.01" y1="384.7" x2="184.59" y2="388.5" stroke="#000" stroke-width="2.0"/>
<line x1="178.01" y1="388.5" x2="184.59" y2="384.7" stroke="#000" stroke-width="2.0"/>
<path d="M126.8 428.9 V418.8 H172.3 V458.8" fill="none" stroke="#000" stroke-width="2.1"/>
<line x1="149.55" y1="403" x2="149.55" y2="410.6" stroke="#000" stroke-width="2.0"/>
<line x1="146.26" y1="404.9" x2="152.84" y2="408.7" stroke="#000" stroke-width="2.0"/>
<line x1="146.26" y1="408.7" x2="152.84" y2="404.9" stroke="#000" stroke-width="2.0"/>
<ellipse cx="17.3" cy="346.3" rx="16.2" ry="18.5" fill="none" stroke="#000" stroke-width="1.6"/>
<text x="17.5" y="355" font-size="23.5" text-anchor="middle" style='font-family:"Liberation Serif", serif'>b</text>
</g>
<g>
<path d="M483 391.2 V604.5 H686" fill="none" stroke="#000" stroke-width="2.1" stroke-linejoin="miter"/>
<line x1="475" y1="604.5" x2="483" y2="604.5" stroke="#000" stroke-width="2.1" stroke-linecap="butt"/>
<text transform="translate(472,610.17) scale(1,1.1)" font-size="14.4" text-anchor="end">0.00</text>
<line x1="475" y1="551.17" x2="483" y2="551.17" stroke="#000" stroke-width="2.1" stroke-linecap="butt"/>
<text transform="translate(472,556.85) scale(1,1.1)" font-size="14.4" text-anchor="end">0.02</text>
<line x1="475" y1="497.85" x2="483" y2="497.85" stroke="#000" stroke-width="2.1" stroke-linecap="butt"/>
<text transform="translate(472,503.52) scale(1,1.1)" font-size="14.4" text-anchor="end">0.04</text>
<line x1="475" y1="444.52" x2="483" y2="444.52" stroke="#000" stroke-width="2.1" stroke-linecap="butt"/>
<text transform="translate(472,450.2) scale(1,1.1)" font-size="14.4" text-anchor="end">0.06</text>
<line x1="475" y1="391.2" x2="483" y2="391.2" stroke="#000" stroke-width="2.1" stroke-linecap="butt"/>
<text transform="translate(472,396.87) scale(1,1.1)" font-size="14.4" text-anchor="end">0.08</text>
<line x1="513.8" y1="604.5" x2="513.8" y2="613.8" stroke="#000" stroke-width="2.1" stroke-linecap="butt"/>
<text transform="translate(513.8,631.1) scale(1,1.1)" font-size="14.4" text-anchor="middle">0</text>
<line x1="559.9" y1="604.5" x2="559.9" y2="613.8" stroke="#000" stroke-width="2.1" stroke-linecap="butt"/>
<text transform="translate(559.9,631.1) scale(1,1.1)" font-size="14.4" text-anchor="middle">500</text>
<line x1="606.2" y1="604.5" x2="606.2" y2="613.8" stroke="#000" stroke-width="2.1" stroke-linecap="butt"/>
<text transform="translate(606.2,631.1) scale(1,1.1)" font-size="14.4" text-anchor="middle">1000</text>
<line x1="652.8" y1="604.5" x2="652.8" y2="613.8" stroke="#000" stroke-width="2.1" stroke-linecap="butt"/>
<text transform="translate(652.8,631.1) scale(1,1.1)" font-size="14.4" text-anchor="middle">1500</text>
<text transform="translate(583,656.6) scale(1,1.07)" font-size="14.6" text-anchor="middle">Metal concentrations (µM)</text>
<text transform="translate(412,497.9) rotate(-90) scale(1.04,1)" font-size="15.1" text-anchor="middle">Stomatal conductance</text>
<text transform="translate(432.9,497.9) rotate(-90) scale(1.04,1)" font-size="15.1" text-anchor="middle">(mol H<tspan font-size="12.68" dy="3.77">2</tspan><tspan dy="-3.77">O m</tspan><tspan font-size="11.63" dy="-6.72">-2</tspan><tspan dy="6.72"> s</tspan><tspan font-size="11.63" dy="-6.72">-1</tspan><tspan dy="6.72">)</tspan></text>
<circle cx="508.7" cy="481.3" r="3.3" fill="#539ff5"/>
<circle cx="510.9" cy="480.9" r="3.3" fill="#539ff5"/>
<circle cx="513.1" cy="481.6" r="3.3" fill="#539ff5"/>
<circle cx="515.3" cy="481.3" r="3.3" fill="#539ff5"/>
<circle cx="517.5" cy="480.9" r="3.3" fill="#539ff5"/>
<circle cx="519.7" cy="481.6" r="3.3" fill="#539ff5"/>
<circle cx="501.7" cy="494.5" r="3.3" fill="#539ff5"/>
<circle cx="504.13" cy="493.2" r="3.3" fill="#539ff5"/>
<circle cx="506.56" cy="494.3" r="3.3" fill="#539ff5"/>
<circle cx="508.99" cy="492.8" r="3.3" fill="#539ff5"/>
<circle cx="511.42" cy="494.6" r="3.3" fill="#539ff5"/>
<circle cx="513.85" cy="493.6" r="3.3" fill="#539ff5"/>
<circle cx="516.28" cy="494.8" r="3.3" fill="#539ff5"/>
<circle cx="518.71" cy="494.5" r="3.3" fill="#539ff5"/>
<circle cx="521.14" cy="493.2" r="3.3" fill="#539ff5"/>
<circle cx="523.57" cy="494.3" r="3.3" fill="#539ff5"/>
<circle cx="526" cy="492.8" r="3.3" fill="#539ff5"/>
<circle cx="508.6" cy="508.8" r="3.3" fill="#539ff5"/>
<circle cx="510.82" cy="509.1" r="3.3" fill="#539ff5"/>
<circle cx="513.04" cy="508.6" r="3.3" fill="#539ff5"/>
<circle cx="515.26" cy="508.8" r="3.3" fill="#539ff5"/>
<circle cx="517.48" cy="509.1" r="3.3" fill="#539ff5"/>
<circle cx="519.7" cy="508.6" r="3.3" fill="#539ff5"/>
<circle cx="554.4" cy="461" r="3.3" fill="#ff8810"/>
<circle cx="556.78" cy="459.5" r="3.3" fill="#ff8810"/>
<circle cx="559.16" cy="461.6" r="3.3" fill="#ff8810"/>
<circle cx="561.54" cy="460.2" r="3.3" fill="#ff8810"/>
<circle cx="563.92" cy="462.2" r="3.3" fill="#ff8810"/>
<circle cx="566.3" cy="461" r="3.3" fill="#ff8810"/>
<circle cx="557.1" cy="467.7" r="3.3" fill="#ff8810"/>
<circle cx="563.6" cy="467.7" r="3.3" fill="#ff8810"/>
<circle cx="548.2" cy="501.5" r="3.3" fill="#ff8810"/>
<circle cx="550.66" cy="500" r="3.3" fill="#ff8810"/>
<circle cx="553.12" cy="502.7" r="3.3" fill="#ff8810"/>
<circle cx="555.58" cy="500.7" r="3.3" fill="#ff8810"/>
<circle cx="558.04" cy="503.3" r="3.3" fill="#ff8810"/>
<circle cx="560.5" cy="501.9" r="3.3" fill="#ff8810"/>
<circle cx="562.96" cy="500.3" r="3.3" fill="#ff8810"/>
<circle cx="565.42" cy="503" r="3.3" fill="#ff8810"/>
<circle cx="567.88" cy="501.5" r="3.3" fill="#ff8810"/>
<circle cx="570.34" cy="501" r="3.3" fill="#ff8810"/>
<circle cx="572.8" cy="502.5" r="3.3" fill="#ff8810"/>
<circle cx="594.1" cy="513.4" r="3.3" fill="#aa00ee"/>
<circle cx="596.82" cy="512.2" r="3.3" fill="#aa00ee"/>
<circle cx="599.54" cy="514.6" r="3.3" fill="#aa00ee"/>
<circle cx="602.27" cy="512.9" r="3.3" fill="#aa00ee"/>
<circle cx="604.99" cy="514.9" r="3.3" fill="#aa00ee"/>
<circle cx="607.71" cy="512.4" r="3.3" fill="#aa00ee"/>
<circle cx="610.43" cy="514.2" r="3.3" fill="#aa00ee"/>
<circle cx="613.16" cy="513.4" r="3.3" fill="#aa00ee"/>
<circle cx="615.88" cy="512.2" r="3.3" fill="#aa00ee"/>
<circle cx="618.6" cy="514.6" r="3.3" fill="#aa00ee"/>
<circle cx="603.5" cy="509.8" r="3.3" fill="#aa00ee"/>
<circle cx="608.5" cy="509" r="3.3" fill="#aa00ee"/>
<circle cx="606.7" cy="543.9" r="3.3" fill="#aa00ee"/>
<circle cx="601.4" cy="547.8" r="3.3" fill="#aa00ee"/>
<circle cx="611.3" cy="546.5" r="3.3" fill="#aa00ee"/>
<circle cx="597.5" cy="552.4" r="3.3" fill="#aa00ee"/>
<circle cx="603.4" cy="553.1" r="3.3" fill="#aa00ee"/>
<circle cx="608.7" cy="555" r="3.3" fill="#aa00ee"/>
<circle cx="615.2" cy="551.1" r="3.3" fill="#aa00ee"/>
<circle cx="612.6" cy="555" r="3.3" fill="#aa00ee"/>
<circle cx="606" cy="550" r="3.3" fill="#aa00ee"/>
<circle cx="640.5" cy="500.5" r="3.3" fill="#10c010"/>
<circle cx="643.2" cy="499.6" r="3.3" fill="#10c010"/>
<circle cx="645.9" cy="501.4" r="3.3" fill="#10c010"/>
<circle cx="648.6" cy="500.1" r="3.3" fill="#10c010"/>
<circle cx="651.3" cy="501.1" r="3.3" fill="#10c010"/>
<circle cx="654" cy="500.5" r="3.3" fill="#10c010"/>
<circle cx="656.7" cy="499.6" r="3.3" fill="#10c010"/>
<circle cx="659.4" cy="501.4" r="3.3" fill="#10c010"/>
<circle cx="662.1" cy="500.1" r="3.3" fill="#10c010"/>
<circle cx="664.8" cy="501.1" r="3.3" fill="#10c010"/>
<circle cx="653.3" cy="521.5" r="3.3" fill="#10c010"/>
<circle cx="655.3" cy="524.8" r="3.3" fill="#10c010"/>
<circle cx="650" cy="528.8" r="3.3" fill="#10c010"/>
<circle cx="656" cy="530.7" r="3.3" fill="#10c010"/>
<circle cx="652" cy="534.7" r="3.3" fill="#10c010"/>
<circle cx="656" cy="536.6" r="3.3" fill="#10c010"/>
<circle cx="653.3" cy="539.9" r="3.3" fill="#10c010"/>
<circle cx="650.7" cy="542.6" r="3.3" fill="#10c010"/>
<line x1="513.8" y1="485" x2="513.8" y2="504.5" stroke="#000" stroke-width="2.1" stroke-linecap="butt"/>
<line x1="506.3" y1="485" x2="521.3" y2="485" stroke="#000" stroke-width="2.1" stroke-linecap="butt"/>
<line x1="506.3" y1="504.5" x2="521.3" y2="504.5" stroke="#000" stroke-width="2.1" stroke-linecap="butt"/>
<line x1="498.6" y1="494.5" x2="529" y2="494.5" stroke="#000" stroke-width="2.1" stroke-linecap="butt"/>
<line x1="559.9" y1="464.5" x2="559.9" y2="503.7" stroke="#000" stroke-width="2.1" stroke-linecap="butt"/>
<line x1="552.4" y1="464.5" x2="567.4" y2="464.5" stroke="#000" stroke-width="2.1" stroke-linecap="butt"/>
<line x1="552.4" y1="503.7" x2="567.4" y2="503.7" stroke="#000" stroke-width="2.1" stroke-linecap="butt"/>
<line x1="544.7" y1="484.1" x2="575.1" y2="484.1" stroke="#000" stroke-width="2.1" stroke-linecap="butt"/>
<line x1="606.2" y1="513" x2="606.2" y2="550.2" stroke="#000" stroke-width="2.1" stroke-linecap="butt"/>
<line x1="598.7" y1="513" x2="613.7" y2="513" stroke="#000" stroke-width="2.1" stroke-linecap="butt"/>
<line x1="598.7" y1="550.2" x2="613.7" y2="550.2" stroke="#000" stroke-width="2.1" stroke-linecap="butt"/>
<line x1="591" y1="531.8" x2="621.4" y2="531.8" stroke="#000" stroke-width="2.1" stroke-linecap="butt"/>
<line x1="652.8" y1="498.9" x2="652.8" y2="532" stroke="#000" stroke-width="2.1" stroke-linecap="butt"/>
<line x1="645.3" y1="498.9" x2="660.3" y2="498.9" stroke="#000" stroke-width="2.1" stroke-linecap="butt"/>
<line x1="645.3" y1="532" x2="660.3" y2="532" stroke="#000" stroke-width="2.1" stroke-linecap="butt"/>
<line x1="637.6" y1="515.2" x2="668" y2="515.2" stroke="#000" stroke-width="2.1" stroke-linecap="butt"/>
<path d="M514.6 443.9 V433 H653 V489.4" fill="none" stroke="#000" stroke-width="2.1"/>
<line x1="576" y1="418.15" x2="576" y2="425.05" stroke="#000" stroke-width="2.0"/>
<line x1="573.01" y1="419.88" x2="578.99" y2="423.33" stroke="#000" stroke-width="2.0"/>
<line x1="573.01" y1="423.33" x2="578.99" y2="419.88" stroke="#000" stroke-width="2.0"/>
<line x1="583.8" y1="418.15" x2="583.8" y2="425.05" stroke="#000" stroke-width="2.0"/>
<line x1="580.81" y1="419.88" x2="586.79" y2="423.33" stroke="#000" stroke-width="2.0"/>
<line x1="580.81" y1="423.33" x2="586.79" y2="419.88" stroke="#000" stroke-width="2.0"/>
<line x1="591.6" y1="418.15" x2="591.6" y2="425.05" stroke="#000" stroke-width="2.0"/>
<line x1="588.61" y1="419.88" x2="594.59" y2="423.33" stroke="#000" stroke-width="2.0"/>
<line x1="588.61" y1="423.33" x2="594.59" y2="419.88" stroke="#000" stroke-width="2.0"/>
<path d="M514.6 470.3 V452.8 H607.9 V495.3" fill="none" stroke="#000" stroke-width="2.1"/>
<line x1="553.45" y1="437.95" x2="553.45" y2="444.85" stroke="#000" stroke-width="2.0"/>
<line x1="550.46" y1="439.68" x2="556.44" y2="443.13" stroke="#000" stroke-width="2.0"/>
<line x1="550.46" y1="443.13" x2="556.44" y2="439.68" stroke="#000" stroke-width="2.0"/>
<line x1="561.25" y1="437.95" x2="561.25" y2="444.85" stroke="#000" stroke-width="2.0"/>
<line x1="558.26" y1="439.68" x2="564.24" y2="443.13" stroke="#000" stroke-width="2.0"/>
<line x1="558.26" y1="443.13" x2="564.24" y2="439.68" stroke="#000" stroke-width="2.0"/>
<line x1="569.05" y1="437.95" x2="569.05" y2="444.85" stroke="#000" stroke-width="2.0"/>
<line x1="566.06" y1="439.68" x2="572.04" y2="443.13" stroke="#000" stroke-width="2.0"/>
<line x1="566.06" y1="443.13" x2="572.04" y2="439.68" stroke="#000" stroke-width="2.0"/>
<ellipse cx="400.2" cy="342.3" rx="16.8" ry="18.6" fill="none" stroke="#000" stroke-width="1.6"/>
<text x="400.2" y="351.3" font-size="23.5" text-anchor="middle" style='font-family:"Liberation Serif", serif'>e</text>
</g>
<g>
<path d="M81.9 744 V959.5 H285.5" fill="none" stroke="#000" stroke-width="2.1" stroke-linejoin="miter"/>
<line x1="73.9" y1="959.5" x2="81.9" y2="959.5" stroke="#000" stroke-width="2.1" stroke-linecap="butt"/>
<text transform="translate(70.9,965.01) scale(1,1.1)" font-size="14.0" text-anchor="end">0</text>
<line x1="73.9" y1="905.62" x2="81.9" y2="905.62" stroke="#000" stroke-width="2.1" stroke-linecap="butt"/>
<text transform="translate(70.9,911.14) scale(1,1.1)" font-size="14.0" text-anchor="end">1</text>
<line x1="73.9" y1="851.75" x2="81.9" y2="851.75" stroke="#000" stroke-width="2.1" stroke-linecap="butt"/>
<text transform="translate(70.9,857.26) scale(1,1.1)" font-size="14.0" text-anchor="end">2</text>
<line x1="73.9" y1="797.88" x2="81.9" y2="797.88" stroke="#000" stroke-width="2.1" stroke-linecap="butt"/>
<text transform="translate(70.9,803.39) scale(1,1.1)" font-size="14.0" text-anchor="end">3</text>
<line x1="73.9" y1="744" x2="81.9" y2="744" stroke="#000" stroke-width="2.1" stroke-linecap="butt"/>
<text transform="translate(70.9,749.51) scale(1,1.1)" font-size="14.0" text-anchor="end">4</text>
<line x1="112.8" y1="959.5" x2="112.8" y2="968.1" stroke="#000" stroke-width="2.1" stroke-linecap="butt"/>
<text transform="translate(112.8,986.3) scale(1,1.1)" font-size="14.0" text-anchor="middle">0</text>
<line x1="159.3" y1="959.5" x2="159.3" y2="968.1" stroke="#000" stroke-width="2.1" stroke-linecap="butt"/>
<text transform="translate(159.3,986.3) scale(1,1.1)" font-size="14.0" text-anchor="middle">500</text>
<line x1="206.2" y1="959.5" x2="206.2" y2="968.1" stroke="#000" stroke-width="2.1" stroke-linecap="butt"/>
<text transform="translate(206.2,986.3) scale(1,1.1)" font-size="14.0" text-anchor="middle">1000</text>
<line x1="253.4" y1="959.5" x2="253.4" y2="968.1" stroke="#000" stroke-width="2.1" stroke-linecap="butt"/>
<text transform="translate(253.4,986.3) scale(1,1.1)" font-size="14.0" text-anchor="middle">1500</text>
<text transform="translate(182.8,1013) scale(1,1.07)" font-size="14.8" text-anchor="middle">Metal concentrations (µM)</text>
<text transform="translate(32,851.8) rotate(-90) scale(1.04,1)" font-size="15.0" text-anchor="middle">Transpiration rate</text>
<text transform="translate(52.9,849.4) rotate(-90) scale(1.04,1)" font-size="15.0" text-anchor="middle">(mmol H<tspan font-size="12.60" dy="3.75">2</tspan><tspan dy="-3.75">O m</tspan><tspan font-size="11.55" dy="-6.67">-2</tspan><tspan dy="6.67"> s</tspan><tspan font-size="11.55" dy="-6.67">-1</tspan><tspan dy="6.67">)</tspan></text>
<circle cx="119.2" cy="817.7" r="3.3" fill="#539ff5"/>
<circle cx="113" cy="821" r="3.3" fill="#539ff5"/>
<circle cx="119.2" cy="824.3" r="3.3" fill="#539ff5"/>
<circle cx="113" cy="827.9" r="3.3" fill="#539ff5"/>
<circle cx="106.7" cy="831.5" r="3.3" fill="#539ff5"/>
<circle cx="119.2" cy="832.2" r="3.3" fill="#539ff5"/>
<circle cx="106.7" cy="843.4" r="3.3" fill="#539ff5"/>
<circle cx="113" cy="844" r="3.3" fill="#539ff5"/>
<circle cx="119.2" cy="844.9" r="3.3" fill="#539ff5"/>
<circle cx="100.5" cy="848" r="3.3" fill="#539ff5"/>
<circle cx="125.5" cy="846.9" r="3.3" fill="#539ff5"/>
<circle cx="113" cy="849.9" r="3.3" fill="#539ff5"/>
<circle cx="106.7" cy="855.4" r="3.3" fill="#539ff5"/>
<circle cx="113" cy="859.8" r="3.3" fill="#539ff5"/>
<circle cx="106.7" cy="864" r="3.3" fill="#539ff5"/>
<circle cx="125.5" cy="864.4" r="3.3" fill="#539ff5"/>
<circle cx="100.5" cy="869" r="3.3" fill="#539ff5"/>
<circle cx="113" cy="868.3" r="3.3" fill="#539ff5"/>
<circle cx="119.2" cy="868.3" r="3.3" fill="#539ff5"/>
<circle cx="106.7" cy="875.5" r="3.3" fill="#539ff5"/>
<circle cx="125.5" cy="874.9" r="3.3" fill="#539ff5"/>
<circle cx="106.7" cy="882.1" r="3.3" fill="#539ff5"/>
<circle cx="119.2" cy="880.8" r="3.3" fill="#539ff5"/>
<circle cx="159.6" cy="839.7" r="3.3" fill="#ff8810"/>
<circle cx="165.9" cy="841" r="3.3" fill="#ff8810"/>
<circle cx="159.6" cy="846.2" r="3.3" fill="#ff8810"/>
<circle cx="172.1" cy="846.6" r="3.3" fill="#ff8810"/>
<circle cx="147.2" cy="849.9" r="3.3" fill="#ff8810"/>
<circle cx="153.5" cy="853.2" r="3.3" fill="#ff8810"/>
<circle cx="165.9" cy="852.6" r="3.3" fill="#ff8810"/>
<circle cx="172.1" cy="855.2" r="3.3" fill="#ff8810"/>
<circle cx="153.5" cy="859.5" r="3.3" fill="#ff8810"/>
<circle cx="159.6" cy="859.1" r="3.3" fill="#ff8810"/>
<circle cx="165.9" cy="861.1" r="3.3" fill="#ff8810"/>
<circle cx="153.5" cy="866.4" r="3.3" fill="#ff8810"/>
<circle cx="159.6" cy="865" r="3.3" fill="#ff8810"/>
<circle cx="153.5" cy="873.8" r="3.3" fill="#ff8810"/>
<circle cx="159.6" cy="873.6" r="3.3" fill="#ff8810"/>
<circle cx="165.9" cy="874.2" r="3.3" fill="#ff8810"/>
<circle cx="153.5" cy="880.8" r="3.3" fill="#ff8810"/>
<circle cx="159.6" cy="880.1" r="3.3" fill="#ff8810"/>
<circle cx="165.9" cy="881.5" r="3.3" fill="#ff8810"/>
<circle cx="153.5" cy="889.1" r="3.3" fill="#ff8810"/>
<circle cx="159.6" cy="888.7" r="3.3" fill="#ff8810"/>
<circle cx="165.9" cy="890.7" r="3.3" fill="#ff8810"/>
<circle cx="153.5" cy="897" r="3.3" fill="#ff8810"/>
<circle cx="200.1" cy="851.9" r="3.3" fill="#aa00ee"/>
<circle cx="206.4" cy="856.8" r="3.3" fill="#aa00ee"/>
<circle cx="212.6" cy="854.5" r="3.3" fill="#aa00ee"/>
<circle cx="200.1" cy="861.1" r="3.3" fill="#aa00ee"/>
<circle cx="212.6" cy="861.1" r="3.3" fill="#aa00ee"/>
<circle cx="218.9" cy="864.1" r="3.3" fill="#aa00ee"/>
<circle cx="193.9" cy="867.3" r="3.3" fill="#aa00ee"/>
<circle cx="206.4" cy="867.3" r="3.3" fill="#aa00ee"/>
<circle cx="212.6" cy="869" r="3.3" fill="#aa00ee"/>
<circle cx="218.9" cy="871.2" r="3.3" fill="#aa00ee"/>
<circle cx="200.1" cy="872.7" r="3.3" fill="#aa00ee"/>
<circle cx="193.9" cy="874.9" r="3.3" fill="#aa00ee"/>
<circle cx="212.6" cy="875.9" r="3.3" fill="#aa00ee"/>
<circle cx="218.9" cy="878.8" r="3.3" fill="#aa00ee"/>
<circle cx="206.4" cy="879.5" r="3.3" fill="#aa00ee"/>
<circle cx="212.6" cy="884.1" r="3.3" fill="#aa00ee"/>
<circle cx="206.4" cy="886.5" r="3.3" fill="#aa00ee"/>
<circle cx="218.9" cy="887.8" r="3.3" fill="#aa00ee"/>
<circle cx="193.9" cy="893.5" r="3.3" fill="#aa00ee"/>
<circle cx="200.1" cy="893" r="3.3" fill="#aa00ee"/>
<circle cx="206.4" cy="893.5" r="3.3" fill="#aa00ee"/>
<circle cx="212.6" cy="893.5" r="3.3" fill="#aa00ee"/>
<circle cx="218.9" cy="897.9" r="3.3" fill="#aa00ee"/>
<circle cx="253.3" cy="846.6" r="3.3" fill="#10c010"/>
<circle cx="247" cy="850.6" r="3.3" fill="#10c010"/>
<circle cx="259.5" cy="851.5" r="3.3" fill="#10c010"/>
<circle cx="265.8" cy="849.9" r="3.3" fill="#10c010"/>
<circle cx="240.8" cy="856.8" r="3.3" fill="#10c010"/>
<circle cx="247" cy="858.5" r="3.3" fill="#10c010"/>
<circle cx="265.8" cy="857.8" r="3.3" fill="#10c010"/>
<circle cx="253.3" cy="861.8" r="3.3" fill="#10c010"/>
<circle cx="247" cy="866.4" r="3.3" fill="#10c010"/>
<circle cx="259.5" cy="867" r="3.3" fill="#10c010"/>
<circle cx="265.8" cy="865.7" r="3.3" fill="#10c010"/>
<circle cx="247" cy="874.2" r="3.3" fill="#10c010"/>
<circle cx="265.8" cy="873.6" r="3.3" fill="#10c010"/>
<circle cx="259.5" cy="876.2" r="3.3" fill="#10c010"/>
<circle cx="253.3" cy="872.9" r="3.3" fill="#10c010"/>
<circle cx="247" cy="882.1" r="3.3" fill="#10c010"/>
<circle cx="265.8" cy="882.1" r="3.3" fill="#10c010"/>
<circle cx="253.3" cy="887.4" r="3.3" fill="#10c010"/>
<circle cx="259.5" cy="887.8" r="3.3" fill="#10c010"/>
<circle cx="240.8" cy="890.7" r="3.3" fill="#10c010"/>
<circle cx="265.8" cy="894.3" r="3.3" fill="#10c010"/>
<line x1="112.8" y1="832.5" x2="112.8" y2="871.9" stroke="#000" stroke-width="2.1" stroke-linecap="butt"/>
<line x1="105.3" y1="832.5" x2="120.3" y2="832.5" stroke="#000" stroke-width="2.1" stroke-linecap="butt"/>
<line x1="105.3" y1="871.9" x2="120.3" y2="871.9" stroke="#000" stroke-width="2.1" stroke-linecap="butt"/>
<line x1="97.5" y1="852.3" x2="128.1" y2="852.3" stroke="#000" stroke-width="2.1" stroke-linecap="butt"/>
<line x1="159.3" y1="849.7" x2="159.3" y2="883.4" stroke="#000" stroke-width="2.1" stroke-linecap="butt"/>
<line x1="151.8" y1="849.7" x2="166.8" y2="849.7" stroke="#000" stroke-width="2.1" stroke-linecap="butt"/>
<line x1="151.8" y1="883.4" x2="166.8" y2="883.4" stroke="#000" stroke-width="2.1" stroke-linecap="butt"/>
<line x1="144" y1="866.4" x2="174.6" y2="866.4" stroke="#000" stroke-width="2.1" stroke-linecap="butt"/>
<line x1="206.2" y1="861.8" x2="206.2" y2="889.7" stroke="#000" stroke-width="2.1" stroke-linecap="butt"/>
<line x1="198.7" y1="861.8" x2="213.7" y2="861.8" stroke="#000" stroke-width="2.1" stroke-linecap="butt"/>
<line x1="198.7" y1="889.7" x2="213.7" y2="889.7" stroke="#000" stroke-width="2.1" stroke-linecap="butt"/>
<line x1="190.9" y1="875.5" x2="221.5" y2="875.5" stroke="#000" stroke-width="2.1" stroke-linecap="butt"/>
<line x1="253.4" y1="854.5" x2="253.4" y2="883.7" stroke="#000" stroke-width="2.1" stroke-linecap="butt"/>
<line x1="245.9" y1="854.5" x2="260.9" y2="854.5" stroke="#000" stroke-width="2.1" stroke-linecap="butt"/>
<line x1="245.9" y1="883.7" x2="260.9" y2="883.7" stroke="#000" stroke-width="2.1" stroke-linecap="butt"/>
<line x1="238.1" y1="869" x2="268.7" y2="869" stroke="#000" stroke-width="2.1" stroke-linecap="butt"/>
<path d="M114.2 762.3 V752.7 H253.2 V835.2" fill="none" stroke="#000" stroke-width="2.1"/>
<line x1="175.1" y1="736.8" x2="175.1" y2="744.4" stroke="#000" stroke-width="2.0"/>
<line x1="171.81" y1="738.7" x2="178.39" y2="742.5" stroke="#000" stroke-width="2.0"/>
<line x1="171.81" y1="742.5" x2="178.39" y2="738.7" stroke="#000" stroke-width="2.0"/>
<line x1="183.7" y1="736.8" x2="183.7" y2="744.4" stroke="#000" stroke-width="2.0"/>
<line x1="180.41" y1="738.7" x2="186.99" y2="742.5" stroke="#000" stroke-width="2.0"/>
<line x1="180.41" y1="742.5" x2="186.99" y2="738.7" stroke="#000" stroke-width="2.0"/>
<line x1="192.3" y1="736.8" x2="192.3" y2="744.4" stroke="#000" stroke-width="2.0"/>
<line x1="189.01" y1="738.7" x2="195.59" y2="742.5" stroke="#000" stroke-width="2.0"/>
<line x1="189.01" y1="742.5" x2="195.59" y2="738.7" stroke="#000" stroke-width="2.0"/>
<path d="M114.2 782.2 V772.9 H206.2 V851.2" fill="none" stroke="#000" stroke-width="2.1"/>
<line x1="151.6" y1="757" x2="151.6" y2="764.6" stroke="#000" stroke-width="2.0"/>
<line x1="148.31" y1="758.9" x2="154.89" y2="762.7" stroke="#000" stroke-width="2.0"/>
<line x1="148.31" y1="762.7" x2="154.89" y2="758.9" stroke="#000" stroke-width="2.0"/>
<line x1="160.2" y1="757" x2="160.2" y2="764.6" stroke="#000" stroke-width="2.0"/>
<line x1="156.91" y1="758.9" x2="163.49" y2="762.7" stroke="#000" stroke-width="2.0"/>
<line x1="156.91" y1="762.7" x2="163.49" y2="758.9" stroke="#000" stroke-width="2.0"/>
<line x1="168.8" y1="757" x2="168.8" y2="764.6" stroke="#000" stroke-width="2.0"/>
<line x1="165.51" y1="758.9" x2="172.09" y2="762.7" stroke="#000" stroke-width="2.0"/>
<line x1="165.51" y1="762.7" x2="172.09" y2="758.9" stroke="#000" stroke-width="2.0"/>
<path d="M114.2 808.4 V793 H159.5 V835.2" fill="none" stroke="#000" stroke-width="2.1"/>
<line x1="132.55" y1="777.1" x2="132.55" y2="784.7" stroke="#000" stroke-width="2.0"/>
<line x1="129.26" y1="779" x2="135.84" y2="782.8" stroke="#000" stroke-width="2.0"/>
<line x1="129.26" y1="782.8" x2="135.84" y2="779" stroke="#000" stroke-width="2.0"/>
<line x1="141.15" y1="777.1" x2="141.15" y2="784.7" stroke="#000" stroke-width="2.0"/>
<line x1="137.86" y1="779" x2="144.44" y2="782.8" stroke="#000" stroke-width="2.0"/>
<line x1="137.86" y1="782.8" x2="144.44" y2="779" stroke="#000" stroke-width="2.0"/>
<ellipse cx="17.3" cy="727.6" rx="16.2" ry="18.6" fill="none" stroke="#000" stroke-width="1.6"/>
<text x="17.5" y="736.5" font-size="23.5" text-anchor="middle" style='font-family:"Liberation Serif", serif'>c</text>
</g>
<g>
<path d="M475.8 738.7 V958.8 H683.4" fill="none" stroke="#000" stroke-width="2.1" stroke-linejoin="miter"/>
<line x1="467.8" y1="958.8" x2="475.8" y2="958.8" stroke="#000" stroke-width="2.1" stroke-linecap="butt"/>
<text transform="translate(464.8,964.55) scale(1,1.1)" font-size="14.6" text-anchor="end">0.0</text>
<line x1="467.8" y1="885.43" x2="475.8" y2="885.43" stroke="#000" stroke-width="2.1" stroke-linecap="butt"/>
<text transform="translate(464.8,891.18) scale(1,1.1)" font-size="14.6" text-anchor="end">0.5</text>
<line x1="467.8" y1="812.07" x2="475.8" y2="812.07" stroke="#000" stroke-width="2.1" stroke-linecap="butt"/>
<text transform="translate(464.8,817.82) scale(1,1.1)" font-size="14.6" text-anchor="end">1.0</text>
<line x1="467.8" y1="738.7" x2="475.8" y2="738.7" stroke="#000" stroke-width="2.1" stroke-linecap="butt"/>
<text transform="translate(464.8,744.45) scale(1,1.1)" font-size="14.6" text-anchor="end">1.5</text>
<line x1="507.7" y1="958.8" x2="507.7" y2="967.4" stroke="#000" stroke-width="2.1" stroke-linecap="butt"/>
<text transform="translate(507.7,985.8) scale(1,1.1)" font-size="14.6" text-anchor="middle">0</text>
<line x1="555.4" y1="958.8" x2="555.4" y2="967.4" stroke="#000" stroke-width="2.1" stroke-linecap="butt"/>
<text transform="translate(555.4,985.8) scale(1,1.1)" font-size="14.6" text-anchor="middle">500</text>
<line x1="602.8" y1="958.8" x2="602.8" y2="967.4" stroke="#000" stroke-width="2.1" stroke-linecap="butt"/>
<text transform="translate(602.8,985.8) scale(1,1.1)" font-size="14.6" text-anchor="middle">1000</text>
<line x1="650.5" y1="958.8" x2="650.5" y2="967.4" stroke="#000" stroke-width="2.1" stroke-linecap="butt"/>
<text transform="translate(650.5,985.8) scale(1,1.1)" font-size="14.6" text-anchor="middle">1500</text>
<text transform="translate(578.2,1012) scale(1,1.07)" font-size="15.0" text-anchor="middle">Metal concentrations (µM)</text>
<text transform="translate(412.3,848.7) rotate(-90) scale(1.04,1)" font-size="15.4" text-anchor="middle">Transpiration rate</text>
<text transform="translate(433.9,846.5) rotate(-90) scale(1.03,1)" font-size="15.4" text-anchor="middle">(mmol H<tspan font-size="12.94" dy="3.85">2</tspan><tspan dy="-3.85">O m</tspan><tspan font-size="11.86" dy="-6.85">-2</tspan><tspan dy="6.85"> s</tspan><tspan font-size="11.86" dy="-6.85">-1</tspan><tspan dy="6.85">)</tspan></text>
<circle cx="504.7" cy="848.1" r="3.3" fill="#539ff5"/>
<circle cx="510.6" cy="848.1" r="3.3" fill="#539ff5"/>
<circle cx="496.2" cy="854.7" r="3.3" fill="#539ff5"/>
<circle cx="500.8" cy="854.3" r="3.3" fill="#539ff5"/>
<circle cx="505.4" cy="855.1" r="3.3" fill="#539ff5"/>
<circle cx="510" cy="854.7" r="3.3" fill="#539ff5"/>
<circle cx="514.6" cy="854.3" r="3.3" fill="#539ff5"/>
<circle cx="519.2" cy="855.1" r="3.3" fill="#539ff5"/>
<circle cx="495" cy="866.9" r="3.3" fill="#539ff5"/>
<circle cx="497.8" cy="867.2" r="3.3" fill="#539ff5"/>
<circle cx="500.6" cy="866.6" r="3.3" fill="#539ff5"/>
<circle cx="503.4" cy="866.9" r="3.3" fill="#539ff5"/>
<circle cx="506.2" cy="867.2" r="3.3" fill="#539ff5"/>
<circle cx="509" cy="866.6" r="3.3" fill="#539ff5"/>
<circle cx="511.8" cy="866.9" r="3.3" fill="#539ff5"/>
<circle cx="514.6" cy="867.2" r="3.3" fill="#539ff5"/>
<circle cx="517.4" cy="866.6" r="3.3" fill="#539ff5"/>
<circle cx="520.2" cy="866.9" r="3.3" fill="#539ff5"/>
<circle cx="546.6" cy="824.6" r="3.3" fill="#ff8810"/>
<circle cx="550.5" cy="821" r="3.3" fill="#ff8810"/>
<circle cx="553.5" cy="817.5" r="3.3" fill="#ff8810"/>
<circle cx="556.3" cy="816.6" r="3.3" fill="#ff8810"/>
<circle cx="559.5" cy="818" r="3.3" fill="#ff8810"/>
<circle cx="564.3" cy="821.6" r="3.3" fill="#ff8810"/>
<circle cx="552" cy="825" r="3.3" fill="#ff8810"/>
<circle cx="557" cy="824.5" r="3.3" fill="#ff8810"/>
<circle cx="561.5" cy="824.3" r="3.3" fill="#ff8810"/>
<circle cx="542.7" cy="857.3" r="3.3" fill="#ff8810"/>
<circle cx="545.5" cy="856.3" r="3.3" fill="#ff8810"/>
<circle cx="548.3" cy="858.3" r="3.3" fill="#ff8810"/>
<circle cx="551.1" cy="857.6" r="3.3" fill="#ff8810"/>
<circle cx="553.9" cy="856.5" r="3.3" fill="#ff8810"/>
<circle cx="556.7" cy="858.5" r="3.3" fill="#ff8810"/>
<circle cx="559.5" cy="857" r="3.3" fill="#ff8810"/>
<circle cx="562.3" cy="858.1" r="3.3" fill="#ff8810"/>
<circle cx="565.1" cy="857.3" r="3.3" fill="#ff8810"/>
<circle cx="567.9" cy="856.7" r="3.3" fill="#ff8810"/>
<circle cx="590.4" cy="868.3" r="3.3" fill="#aa00ee"/>
<circle cx="593.2" cy="866.8" r="3.3" fill="#aa00ee"/>
<circle cx="596" cy="869.8" r="3.3" fill="#aa00ee"/>
<circle cx="598.8" cy="867.5" r="3.3" fill="#aa00ee"/>
<circle cx="601.6" cy="869.3" r="3.3" fill="#aa00ee"/>
<circle cx="604.4" cy="867.1" r="3.3" fill="#aa00ee"/>
<circle cx="607.2" cy="869.9" r="3.3" fill="#aa00ee"/>
<circle cx="610" cy="867.8" r="3.3" fill="#aa00ee"/>
<circle cx="612.8" cy="869.2" r="3.3" fill="#aa00ee"/>
<circle cx="615.6" cy="867.6" r="3.3" fill="#aa00ee"/>
<circle cx="603.6" cy="898.1" r="3.3" fill="#aa00ee"/>
<circle cx="598.4" cy="900.1" r="3.3" fill="#aa00ee"/>
<circle cx="608.2" cy="899.4" r="3.3" fill="#aa00ee"/>
<circle cx="593.1" cy="902.7" r="3.3" fill="#aa00ee"/>
<circle cx="589.9" cy="907.3" r="3.3" fill="#aa00ee"/>
<circle cx="597.1" cy="906.6" r="3.3" fill="#aa00ee"/>
<circle cx="604.3" cy="909.3" r="3.3" fill="#aa00ee"/>
<circle cx="611.5" cy="909.3" r="3.3" fill="#aa00ee"/>
<circle cx="615.5" cy="906" r="3.3" fill="#aa00ee"/>
<circle cx="606" cy="903" r="3.3" fill="#aa00ee"/>
<circle cx="638.1" cy="857.4" r="3.3" fill="#10c010"/>
<circle cx="640.9" cy="856.4" r="3.3" fill="#10c010"/>
<circle cx="643.7" cy="858.4" r="3.3" fill="#10c010"/>
<circle cx="646.5" cy="857" r="3.3" fill="#10c010"/>
<circle cx="649.3" cy="858.1" r="3.3" fill="#10c010"/>
<circle cx="652.1" cy="856.6" r="3.3" fill="#10c010"/>
<circle cx="654.9" cy="858.3" r="3.3" fill="#10c010"/>
<circle cx="657.7" cy="857.4" r="3.3" fill="#10c010"/>
<circle cx="660.5" cy="856.9" r="3.3" fill="#10c010"/>
<circle cx="663.3" cy="857.8" r="3.3" fill="#10c010"/>
<circle cx="647.5" cy="875.5" r="3.3" fill="#10c010"/>
<circle cx="652.5" cy="877" r="3.3" fill="#10c010"/>
<circle cx="654" cy="881.5" r="3.3" fill="#10c010"/>
<circle cx="647" cy="882" r="3.3" fill="#10c010"/>
<circle cx="645.5" cy="886" r="3.3" fill="#10c010"/>
<circle cx="654.5" cy="886" r="3.3" fill="#10c010"/>
<circle cx="648" cy="890" r="3.3" fill="#10c010"/>
<circle cx="653.5" cy="890.5" r="3.3" fill="#10c010"/>
<circle cx="649" cy="893.5" r="3.3" fill="#10c010"/>
<circle cx="654" cy="895" r="3.3" fill="#10c010"/>
<circle cx="648" cy="899" r="3.3" fill="#10c010"/>
<line x1="507.7" y1="852.1" x2="507.7" y2="866.5" stroke="#000" stroke-width="2.1" stroke-linecap="butt"/>
<line x1="500.2" y1="852.1" x2="515.2" y2="852.1" stroke="#000" stroke-width="2.1" stroke-linecap="butt"/>
<line x1="500.2" y1="866.5" x2="515.2" y2="866.5" stroke="#000" stroke-width="2.1" stroke-linecap="butt"/>
<line x1="492.1" y1="859.6" x2="523.3" y2="859.6" stroke="#000" stroke-width="2.1" stroke-linecap="butt"/>
<line x1="555.4" y1="821.1" x2="555.4" y2="858.4" stroke="#000" stroke-width="2.1" stroke-linecap="butt"/>
<line x1="547.9" y1="821.1" x2="562.9" y2="821.1" stroke="#000" stroke-width="2.1" stroke-linecap="butt"/>
<line x1="547.9" y1="858.4" x2="562.9" y2="858.4" stroke="#000" stroke-width="2.1" stroke-linecap="butt"/>
<line x1="539.8" y1="839.7" x2="571" y2="839.7" stroke="#000" stroke-width="2.1" stroke-linecap="butt"/>
<line x1="602.8" y1="868.2" x2="602.8" y2="904.7" stroke="#000" stroke-width="2.1" stroke-linecap="butt"/>
<line x1="595.3" y1="868.2" x2="610.3" y2="868.2" stroke="#000" stroke-width="2.1" stroke-linecap="butt"/>
<line x1="595.3" y1="904.7" x2="610.3" y2="904.7" stroke="#000" stroke-width="2.1" stroke-linecap="butt"/>
<line x1="587.2" y1="886.4" x2="618.4" y2="886.4" stroke="#000" stroke-width="2.1" stroke-linecap="butt"/>
<line x1="650.5" y1="856.2" x2="650.5" y2="888.4" stroke="#000" stroke-width="2.1" stroke-linecap="butt"/>
<line x1="643" y1="856.2" x2="658" y2="856.2" stroke="#000" stroke-width="2.1" stroke-linecap="butt"/>
<line x1="643" y1="888.4" x2="658" y2="888.4" stroke="#000" stroke-width="2.1" stroke-linecap="butt"/>
<line x1="634.9" y1="872.3" x2="666.1" y2="872.3" stroke="#000" stroke-width="2.1" stroke-linecap="butt"/>
<path d="M508.3 771.2 V760.8 H650.8 V843.4" fill="none" stroke="#000" stroke-width="2.1"/>
<line x1="579.55" y1="745.4" x2="579.55" y2="752.4" stroke="#000" stroke-width="2.0"/>
<line x1="576.52" y1="747.15" x2="582.58" y2="750.65" stroke="#000" stroke-width="2.0"/>
<line x1="576.52" y1="750.65" x2="582.58" y2="747.15" stroke="#000" stroke-width="2.0"/>
<path d="M508.3 796.1 V778.7 H602.9 V855.2" fill="none" stroke="#000" stroke-width="2.1"/>
<line x1="547.7" y1="763.3" x2="547.7" y2="770.3" stroke="#000" stroke-width="2.0"/>
<line x1="544.67" y1="765.05" x2="550.73" y2="768.55" stroke="#000" stroke-width="2.0"/>
<line x1="544.67" y1="768.55" x2="550.73" y2="765.05" stroke="#000" stroke-width="2.0"/>
<line x1="555.6" y1="763.3" x2="555.6" y2="770.3" stroke="#000" stroke-width="2.0"/>
<line x1="552.57" y1="765.05" x2="558.63" y2="768.55" stroke="#000" stroke-width="2.0"/>
<line x1="552.57" y1="768.55" x2="558.63" y2="765.05" stroke="#000" stroke-width="2.0"/>
<line x1="563.5" y1="763.3" x2="563.5" y2="770.3" stroke="#000" stroke-width="2.0"/>
<line x1="560.47" y1="765.05" x2="566.53" y2="768.55" stroke="#000" stroke-width="2.0"/>
<line x1="560.47" y1="768.55" x2="566.53" y2="765.05" stroke="#000" stroke-width="2.0"/>
<path d="M508.3 843.5 V800.9 H555.1 V807.3" fill="none" stroke="#000" stroke-width="2.1"/>
<line x1="523.8" y1="785.5" x2="523.8" y2="792.5" stroke="#000" stroke-width="2.0"/>
<line x1="520.77" y1="787.25" x2="526.83" y2="790.75" stroke="#000" stroke-width="2.0"/>
<line x1="520.77" y1="790.75" x2="526.83" y2="787.25" stroke="#000" stroke-width="2.0"/>
<line x1="531.7" y1="785.5" x2="531.7" y2="792.5" stroke="#000" stroke-width="2.0"/>
<line x1="528.67" y1="787.25" x2="534.73" y2="790.75" stroke="#000" stroke-width="2.0"/>
<line x1="528.67" y1="790.75" x2="534.73" y2="787.25" stroke="#000" stroke-width="2.0"/>
<line x1="539.6" y1="785.5" x2="539.6" y2="792.5" stroke="#000" stroke-width="2.0"/>
<line x1="536.57" y1="787.25" x2="542.63" y2="790.75" stroke="#000" stroke-width="2.0"/>
<line x1="536.57" y1="790.75" x2="542.63" y2="787.25" stroke="#000" stroke-width="2.0"/>
<ellipse cx="399.8" cy="729.8" rx="16.4" ry="18.6" fill="none" stroke="#000" stroke-width="1.6"/>
<text x="400" y="738.5" font-size="23.5" text-anchor="middle" style='font-family:"Liberation Serif", serif'>f</text>
</g>
</svg>
</body></html>
